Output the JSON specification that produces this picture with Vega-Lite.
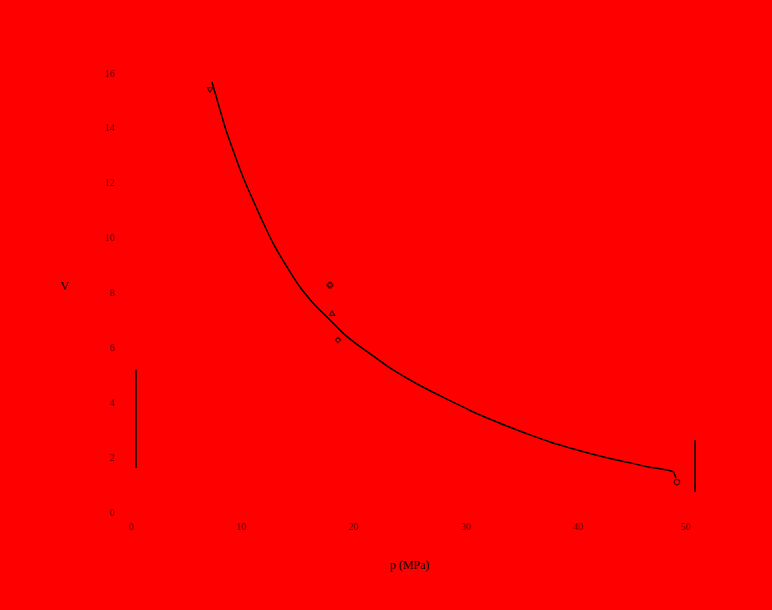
{
  "$schema": "https://vega.github.io/schema/vega-lite/v6.json",
  "autosize": {"type": "none"},
  "width": 562,
  "height": 439,
  "padding": {"left": 128, "top": 73, "right": 82, "bottom": 98},
  "background": "#ff0000",
  "config": {
    "view": {"stroke": null},
    "axis": {"grid": false, "domain": false, "ticks": false, "labelColor": "#000000", "titleColor": "#000000", "labelFont": "Liberation Serif", "titleFont": "Liberation Serif", "labelFontSize": 10, "titleFontSize": 12, "titleFontWeight": "normal", "labelOpacity": 0.7}
  },
  "datasets": {
    "curve": [
      {"p": 7.47, "v": 15.67}, {"p": 8.19, "v": 14.65}, {"p": 8.63, "v": 14.03}, {"p": 9.34, "v": 13.19},
      {"p": 10.23, "v": 12.21}, {"p": 11.12, "v": 11.37}, {"p": 11.92, "v": 10.64}, {"p": 12.90, "v": 9.80},
      {"p": 14.15, "v": 8.93}, {"p": 15.30, "v": 8.20}, {"p": 16.46, "v": 7.62}, {"p": 17.97, "v": 7.00},
      {"p": 19.13, "v": 6.52}, {"p": 20.91, "v": 5.95}, {"p": 21.71, "v": 5.72}, {"p": 23.31, "v": 5.25},
      {"p": 25.09, "v": 4.81}, {"p": 26.87, "v": 4.42}, {"p": 28.65, "v": 4.06}, {"p": 30.43, "v": 3.70},
      {"p": 32.21, "v": 3.38}, {"p": 33.99, "v": 3.09}, {"p": 35.77, "v": 2.81}, {"p": 37.55, "v": 2.55},
      {"p": 39.33, "v": 2.33}, {"p": 41.10, "v": 2.13}, {"p": 42.88, "v": 1.95}, {"p": 44.66, "v": 1.79},
      {"p": 46.44, "v": 1.63}, {"p": 48.49, "v": 1.47}, {"p": 48.75, "v": 1.24}
    ],
    "points": [
      {"p": 7.30, "v": 15.38, "kind": "a"},
      {"p": 17.97, "v": 8.27, "kind": "b"},
      {"p": 18.15, "v": 7.25, "kind": "c"},
      {"p": 18.68, "v": 6.27, "kind": "d"},
      {"p": 48.84, "v": 1.09, "kind": "e"}
    ],
    "frags": [
      {"p": 0.71, "v1": 1.60, "v2": 5.18},
      {"p": 50.45, "v1": 0.73, "v2": 2.62}
    ]
  },
  "encoding": {
    "x": {"field": "p", "type": "quantitative", "scale": {"domain": [0, 50], "nice": false},
          "axis": {"values": [0, 10, 20, 30, 40, 50], "title": "p (MPa)", "labelPadding": 9, "titlePadding": 28}},
    "y": {"field": "v", "type": "quantitative", "scale": {"domain": [0, 16], "nice": false},
          "axis": {"values": [0, 2, 4, 6, 8, 10, 12, 14, 16], "title": "V", "titleAngle": 0, "labelPadding": 14, "titlePadding": 40}}
  },
  "layer": [
    {"data": {"name": "curve"}, "mark": {"type": "line", "color": "#000000", "strokeWidth": 1.5, "interpolate": "monotone"}},
    {"data": {"name": "points"}, "mark": {"type": "point", "color": "#000000", "filled": false, "strokeWidth": 1.2, "size": 30},
     "encoding": {"shape": {"field": "kind", "type": "nominal", "legend": null,
       "scale": {"domain": ["a", "b", "c", "d", "e"], "range": ["triangle-down", "cross", "triangle-up", "diamond", "circle"]}}}},
    {"data": {"name": "frags"}, "mark": {"type": "rule", "color": "#000000", "strokeWidth": 1.5, "clip": false},
     "encoding": {"y": {"field": "v1", "type": "quantitative"}, "y2": {"field": "v2"}}}
  ]
}
